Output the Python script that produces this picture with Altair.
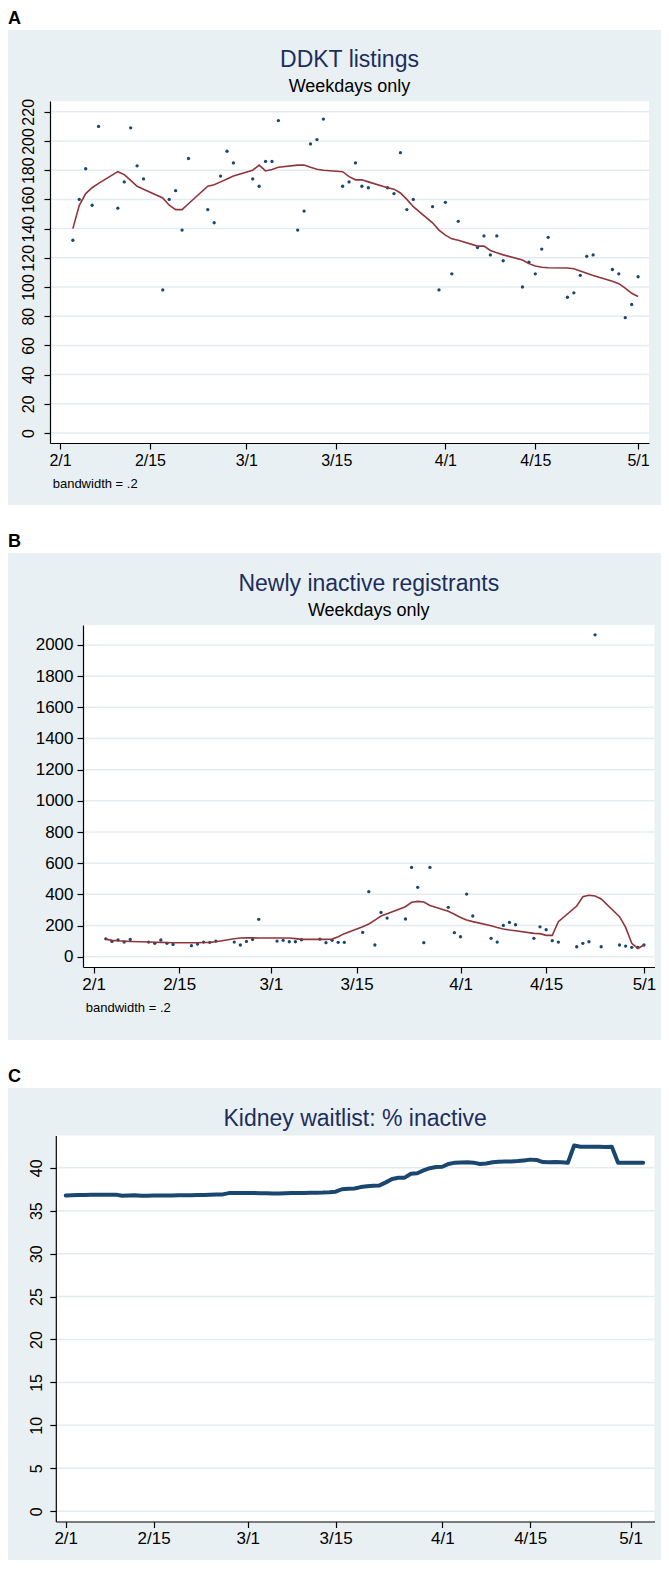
import altair as alt
import pandas as pd

FONT = "Liberation Sans"
NAVY = "#1a476f"
MAROON = "#90353b"
BG = "#e9f0f3"
GRID = "#e4ecef"
TITLE_COLOR = "#1c2e5e"

# ---------------- data ----------------
weekdays = [
    "2020-02-03", "2020-02-04", "2020-02-05", "2020-02-06", "2020-02-07",
    "2020-02-10", "2020-02-11", "2020-02-12", "2020-02-13", "2020-02-14",
    "2020-02-17", "2020-02-18", "2020-02-19", "2020-02-20", "2020-02-21",
    "2020-02-24", "2020-02-25", "2020-02-26", "2020-02-27", "2020-02-28",
    "2020-03-02", "2020-03-03", "2020-03-04", "2020-03-05", "2020-03-06",
    "2020-03-09", "2020-03-10", "2020-03-11", "2020-03-12", "2020-03-13",
    "2020-03-16", "2020-03-17", "2020-03-18", "2020-03-19", "2020-03-20",
    "2020-03-23", "2020-03-24", "2020-03-25", "2020-03-26", "2020-03-27",
    "2020-03-30", "2020-03-31", "2020-04-01", "2020-04-02", "2020-04-03",
    "2020-04-06", "2020-04-07", "2020-04-08", "2020-04-09", "2020-04-10",
    "2020-04-13", "2020-04-14", "2020-04-15", "2020-04-16", "2020-04-17",
    "2020-04-20", "2020-04-21", "2020-04-22", "2020-04-23", "2020-04-24",
    "2020-04-27", "2020-04-28", "2020-04-29", "2020-04-30", "2020-05-01",
]

ddkt_listings = [
    132, 160, 181, 156, 210,
    154, 172, 209, 183, 174,
    98, 160, 166, 139, 188,
    153, 144, 176, 193, 185,
    174, 169, 186, 186, 214,
    139, 152, 198, 201, 215,
    169, 172, 185, 169, 168,
    168, 164, 192, 153, 160,
    155, 98, 158, 109, 145,
    127, 135, 122, 135, 118,
    100, 117, 109, 126, 134,
    93, 96, 108, 121, 122,
    112, 109, 79, 88, 107,
]

ddkt_lowess = [
    140, 156, 164, 168, 171,
    179, 177, 173, 169, 167,
    161, 156, 153, 153, 157,
    169, 170, 172, 174, 176,
    180, 183.5, 179.5, 180.5, 182,
    183.5, 183.5, 182, 180.7, 180,
    179, 175.6, 173.4, 173.4, 172,
    168, 167, 164.4, 160, 155,
    144, 139, 135.5, 133, 132,
    128, 128, 125, 123.5, 122,
    118.5, 116, 114.4, 113.5, 113.2,
    113, 112.5, 111, 109.4, 107.8,
    104, 102.3, 99.3, 95.7, 93.5,
]

newly_inactive = [
    115, 98, 107, 94, 111,
    94, 86, 107, 86, 79,
    71, 81, 94, 92, 100,
    94, 75, 98, 111, 240,
    100, 105, 96, 96, 109,
    113, 90, 105, 92, 92,
    156, 417, 75, 284, 248,
    242, 573, 445, 90, 573,
    317, 154, 128, 402, 261,
    118, 94, 201, 220, 205,
    118, 192, 173, 103, 94,
    64, 86, 96, 2065, 64,
    75, 68, 60, 60, 75,
]

inactive_lowess = [
    113, 105, 102, 100, 98,
    94, 93, 92, 91, 90,
    90, 90, 91, 92, 96,
    115, 120, 122, 121, 120,
    120, 120, 120, 116, 111,
    111, 111, 113, 128, 148,
    192, 210, 235, 261, 276,
    321, 349, 355, 351, 329,
    291, 272, 252, 235, 225,
    199, 188, 178, 171, 167,
    150, 148, 137, 137, 225,
    325, 385, 394, 389, 370,
    257, 188, 86, 53, 75,
]

# daily, 2020-02-01 .. 2020-05-03
waitlist_pct_inactive = [
    36.77, 36.79, 36.82, 36.84, 36.85, 36.85, 36.85, 36.86, 36.87, 36.74,
    36.78, 36.80, 36.74, 36.74, 36.76, 36.76, 36.77, 36.78, 36.80, 36.80,
    36.81, 36.82, 36.84, 36.86, 36.88, 36.90, 37.05, 37.06, 37.07, 37.07,
    37.06, 37.04, 37.02, 37.00, 37.01, 37.03, 37.05, 37.06, 37.07, 37.08,
    37.10, 37.12, 37.16, 37.22, 37.50, 37.55, 37.58, 37.75, 37.86, 37.90,
    37.95, 38.30, 38.70, 38.83, 38.85, 39.30, 39.36, 39.70, 39.95, 40.08,
    40.12, 40.45, 40.60, 40.62, 40.65, 40.60, 40.45, 40.50, 40.65, 40.70,
    40.72, 40.74, 40.78, 40.86, 40.95, 40.92, 40.66, 40.65, 40.66, 40.64,
    40.58, 42.60, 42.45, 42.44, 42.45, 42.44, 42.43, 42.44, 40.58, 40.58,
    40.58, 40.58, 40.58,
]

tick_days = [0, 14, 29, 43, 60, 74, 90]
tick_labels = ["2/1", "2/15", "3/1", "3/15", "4/1", "4/15", "5/1"]

ddkt_ticks = [0, 20, 40, 60, 80, 100, 120, 140, 160, 180, 200, 220]
inactive_ticks = [0, 200, 400, 600, 800, 1000, 1200, 1400, 1600, 1800, 2000]
waitlist_ticks = [0, 5, 10, 15, 20, 25, 30, 35, 40]

# ---------------- frames ----------------
base = pd.Timestamp("2020-02-01")


def to_day(dates):
    return [(pd.Timestamp(d) - base).days for d in dates]


df_a = pd.DataFrame({"day": to_day(weekdays), "value": ddkt_listings, "lowess": ddkt_lowess})
df_b = pd.DataFrame({"day": to_day(weekdays), "value": newly_inactive, "lowess": inactive_lowess})
waitlist_dates = pd.date_range("2020-02-01", periods=len(waitlist_pct_inactive), freq="D")
df_c = pd.DataFrame({"day": to_day(waitlist_dates), "value": waitlist_pct_inactive})
one = pd.DataFrame({"k": [0]})

label_expr = " : ".join(
    f"datum.value == {d} ? '{l}'" for d, l in zip(tick_days, tick_labels)
) + " : ''"

W = 653


def x_axis(offset, size):
    return alt.Axis(
        title=None, values=tick_days, labelExpr=label_expr, grid=False,
        orient="bottom", offset=offset, tickSize=6, tickColor="black",
        domainColor="black", domainWidth=1.2, tickWidth=1.2,
        labelFont=FONT, labelFontSize=size, labelColor="black",
        labelPadding=3, labelFlush=False, labelOverlap=False, zindex=1,
    )


def y_axis(values, offset, size, rotated, padding):
    kw = dict(
        title=None, values=values, grid=False, format="d",
        orient="left", offset=offset, tickSize=6, tickColor="black",
        domainColor="black", domainWidth=1.2, tickWidth=1.2,
        labelFont=FONT, labelFontSize=size, labelColor="black",
        labelPadding=padding, labelOverlap=False, labelFlush=False, zindex=1,
    )
    if rotated:
        kw.update(labelAngle=270, labelAlign="center", labelBaseline="alphabetic")
    else:
        kw.update(labelAlign="right", labelBaseline="middle")
    return alt.Axis(**kw)


def text_layer(txt, x, y, size, color, align="center", weight="normal"):
    return alt.Chart(one).mark_text(
        font=FONT, fontSize=size, color=color, align=align,
        baseline="alphabetic", fontWeight=weight,
    ).encode(x=alt.value(x), y=alt.value(y), text=alt.value(txt))


def panel(letter, H, pxL, pxR, pxT, pxB, xdom, ydom, df, yticks,
          ysize, xsize, rotated, ypad, title, title_y, subtitle=None,
          sub_y=None, note=None, note_xy=None, kind="scatter"):
    xs = alt.Scale(domain=xdom, range=[pxL, pxR], nice=False, zero=False)
    ys = alt.Scale(domain=ydom, range=[pxB, pxT], nice=False, zero=False)
    xenc = alt.X("day:Q", scale=xs, axis=x_axis(-(H - pxB), xsize))
    yaxis = y_axis(yticks, -pxL, ysize, rotated, ypad)

    plot_bg = alt.Chart(one).mark_rect(fill="white").encode(
        x=alt.value(pxL), x2=alt.value(pxR), y=alt.value(pxT), y2=alt.value(pxB)
    )
    grid = alt.Chart(pd.DataFrame({"value": yticks})).mark_rule(
        color=GRID, strokeWidth=1.5
    ).encode(
        y=alt.Y("value:Q", scale=ys, axis=yaxis),
        x=alt.value(pxL), x2=alt.value(pxR),
    )
    layers = [plot_bg, grid]
    if kind == "scatter":
        pts = alt.Chart(df).mark_circle(size=11, color=NAVY, opacity=1).encode(
            x=xenc, y=alt.Y("value:Q", scale=ys, axis=yaxis)
        )
        ln = alt.Chart(df).mark_line(color=MAROON, strokeWidth=1.6).encode(
            x="day:Q", y="lowess:Q"
        )
        layers += [pts, ln]
    else:
        ln = alt.Chart(df).mark_line(
            color=NAVY, strokeWidth=4, strokeJoin="round", strokeCap="round"
        ).encode(x=xenc, y=alt.Y("value:Q", scale=ys, axis=yaxis))
        layers += [ln]

    cx = (pxL + pxR) / 2
    layers.append(text_layer(title, cx, title_y, 23, TITLE_COLOR))
    if subtitle:
        layers.append(text_layer(subtitle, cx, sub_y, 18, "black"))
    if note:
        layers.append(text_layer(note, note_xy[0], note_xy[1], 13, "black", align="left"))

    return alt.layer(*layers).properties(
        width=W, height=H,
        title=alt.TitleParams(
            letter, anchor="start", frame="group", fontSize=18,
            fontWeight="bold", font=FONT, color="black", offset=2,
        ),
    )


panel_a = panel(
    "A", 475, 42, 641, 71, 413, [-1.56, 91.7], [-6.85, 227.4], df_a,
    ddkt_ticks, 16, 16, True, 10.5, "DDKT listings", 36.7,
    subtitle="Weekdays only", sub_y=62.3,
    note="bandwidth = .2", note_xy=(44.7, 457.5),
)

panel_b = panel(
    "B", 487, 75, 646.5, 72, 414, [-1.73, 91.72], [-66, 2128], df_b,
    inactive_ticks, 17, 17, False, 4, "Newly inactive registrants", 37.7,
    subtitle="Weekdays only", sub_y=62.7,
    note="bandwidth = .2", note_xy=(77.8, 458.7),
)

panel_c = panel(
    "C", 472, 47.8, 646.5, 47.5, 433.5, [-1.58, 93.8], [-1.2, 43.76], df_c,
    waitlist_ticks, 16, 17, True, 8.5, "Kidney waitlist: % inactive", 37.5,
    kind="line",
)

chart = alt.vconcat(panel_a, panel_b, panel_c, spacing=28).properties(
    padding={"left": 0, "right": 0, "top": 2, "bottom": 0}, background="white"
).configure_view(fill=BG, strokeWidth=0)

chart.save("out.html", embed_options={"renderer": "svg", "actions": False})
